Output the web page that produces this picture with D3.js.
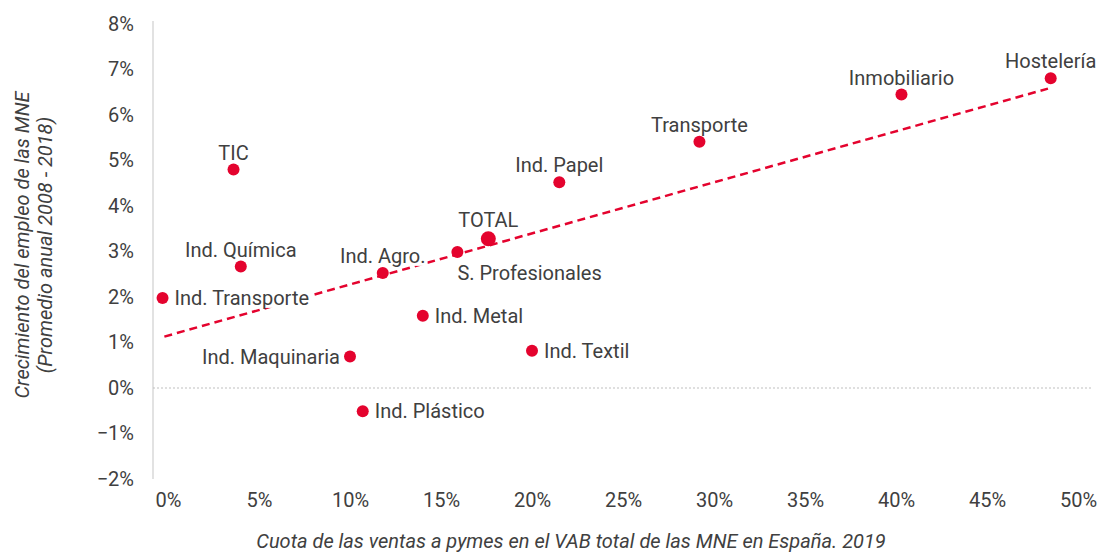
<!DOCTYPE html>
<html>
<head>
<meta charset="utf-8">
<script src="https://cdn.jsdelivr.net/npm/d3@7"></script>
<style>
  body { margin: 0; background: #fff; }
  text { font-family: Roboto, "Noto Sans", sans-serif; fill: #404040; }
</style>
</head>
<body>
<div id="chart"></div>
<script>
// Data
const sectors = ['Ind. Transporte', 'Ind. Química', 'TIC', 'Ind. Maquinaria', 'Ind. Plástico', 'Ind. Agro.',
    'Ind. Metal', 'S. Profesionales', 'TOTAL', 'Ind. Textil', 'Ind. Papel', 'Transporte', 'Inmobiliario', 'Hostelería'];
const salesShare = [-0.003, 0.040, 0.036, 0.100, 0.107, 0.118, 0.140, 0.159, 0.176, 0.200, 0.215, 0.292, 0.403, 0.485];
const jobGrowth = [0.0198, 0.0267, 0.0480, 0.0069, -0.0051, 0.0253, 0.0159, 0.0299, 0.0328, 0.0082, 0.0452, 0.0541, 0.0645, 0.0681];
const trendX = [-0.002, 0.4835];
const trendY = [0.0113, 0.0658];
const xTicks = [0, 0.05, 0.10, 0.15, 0.20, 0.25, 0.30, 0.35, 0.40, 0.45, 0.50];
const yTicks = [-0.02, -0.01, 0, 0.01, 0.02, 0.03, 0.04, 0.05, 0.06, 0.07, 0.08];

// where each label sits relative to its point
const labelPlace = {
    'Ind. Transporte': 'right', 'Ind. Química': 'top', 'TIC': 'top', 'Ind. Maquinaria': 'left',
    'Ind. Plástico': 'right', 'Ind. Agro.': 'top', 'Ind. Metal': 'right', 'S. Profesionales': 'below',
    'TOTAL': 'top', 'Ind. Textil': 'right', 'Ind. Papel': 'top', 'Transporte': 'top',
    'Inmobiliario': 'top', 'Hostelería': 'top'
};

const red = '#e4032e';
const fontSize = '20px';
const outerWidth = 1099;
const outerHeight = 554;

const svg = d3.select('#chart').append('svg')
    .attr('width', outerWidth)
    .attr('height', outerHeight);

const x = d3.scaleLinear().domain([0, 0.5]).range([168, 1078]);
const y = d3.scaleLinear().domain([-0.02, 0.08]).range([479, 24]);
const axisX = 153;
const rightEdge = 1092;

const pct = d3.format('.0%');

// Y axis
const gy = svg.append('g')
    .attr('transform', `translate(${axisX},0)`)
    .call(d3.axisLeft(y).tickValues(yTicks).tickFormat(d => pct(d).replace('-', '–')).tickSize(0).tickPadding(19));
gy.select('.domain').attr('stroke', '#d9d9d9').attr('stroke-width', 1.5).attr('d', `M0,${y(0.08) - 3}V${y(-0.02)}`);
gy.selectAll('text').style('font-size', fontSize).attr('fill', '#404040');

// X axis
const gx = svg.append('g')
    .attr('transform', `translate(0,${y(-0.02)})`)
    .call(d3.axisBottom(x).tickValues(xTicks).tickFormat(pct).tickSize(0).tickPadding(14));
gx.select('.domain').remove();
gx.selectAll('text').style('font-size', fontSize).attr('fill', '#404040');

// Zero line
svg.append('line')
    .attr('x1', axisX).attr('x2', rightEdge)
    .attr('y1', y(0)).attr('y2', y(0))
    .attr('stroke', '#bfbfbf').attr('stroke-width', 1)
    .attr('stroke-dasharray', '2,2');

// Trend line
svg.append('line')
    .attr('x1', x(trendX[0])).attr('y1', y(trendY[0]))
    .attr('x2', x(trendX[1])).attr('y2', y(trendY[1]))
    .attr('stroke', red).attr('stroke-width', 2.5)
    .attr('stroke-dasharray', '8,5');

// Labels with white boxes behind
const points = sectors.map((s, i) => ({ name: s, x: salesShare[i], y: jobGrowth[i] }));

const labels = svg.append('g').selectAll('g')
    .data(points)
    .join('g');

labels.each(function(d) {
    const g = d3.select(this);
    const px = x(d.x), py = y(d.y);
    const place = labelPlace[d.name];
    let tx = px, ty = py, anchor = 'middle';
    if (place === 'right') { tx = px + 12; ty = py + 7; anchor = 'start'; }
    if (place === 'left') { tx = px - 10; ty = py + 7; anchor = 'end'; }
    if (place === 'top') { tx = px; ty = py - (d.name === 'TOTAL' ? 12 : 10); }
    if (place === 'below') { tx = px; ty = py + 28; anchor = 'start'; }
    const t = g.append('text')
        .attr('x', tx).attr('y', ty)
        .attr('text-anchor', anchor)
        .style('font-size', fontSize)
        .text(d.name);
    const bb = t.node().getBBox();
    g.insert('rect', 'text')
        .attr('x', bb.x - 2).attr('y', bb.y + 2)
        .attr('width', bb.width + 4).attr('height', bb.height - 4)
        .attr('fill', '#fff');
});

// Points
svg.append('g').selectAll('circle')
    .data(points)
    .join('circle')
    .attr('cx', d => x(d.x))
    .attr('cy', d => y(d.y))
    .attr('r', d => d.name === 'TOTAL' ? 7.5 : 6)
    .attr('fill', red);

// Axis titles
const yTitle = svg.append('text')
    .attr('transform', `translate(0,245) rotate(-90)`)
    .attr('text-anchor', 'middle')
    .style('font-size', fontSize)
    .style('font-style', 'italic');
yTitle.append('tspan').attr('x', 0).attr('y', 29).text('Crecimiento del empleo de las MNE');
yTitle.append('tspan').attr('x', 0).attr('y', 52).text('(Promedio anual 2008 - 2018)');

svg.append('text')
    .attr('x', 571).attr('y', 548)
    .attr('text-anchor', 'middle')
    .style('font-size', fontSize)
    .style('font-style', 'italic')
    .text('Cuota de las ventas a pymes en el VAB total de las MNE en España. 2019');
</script>
</body>
</html>
